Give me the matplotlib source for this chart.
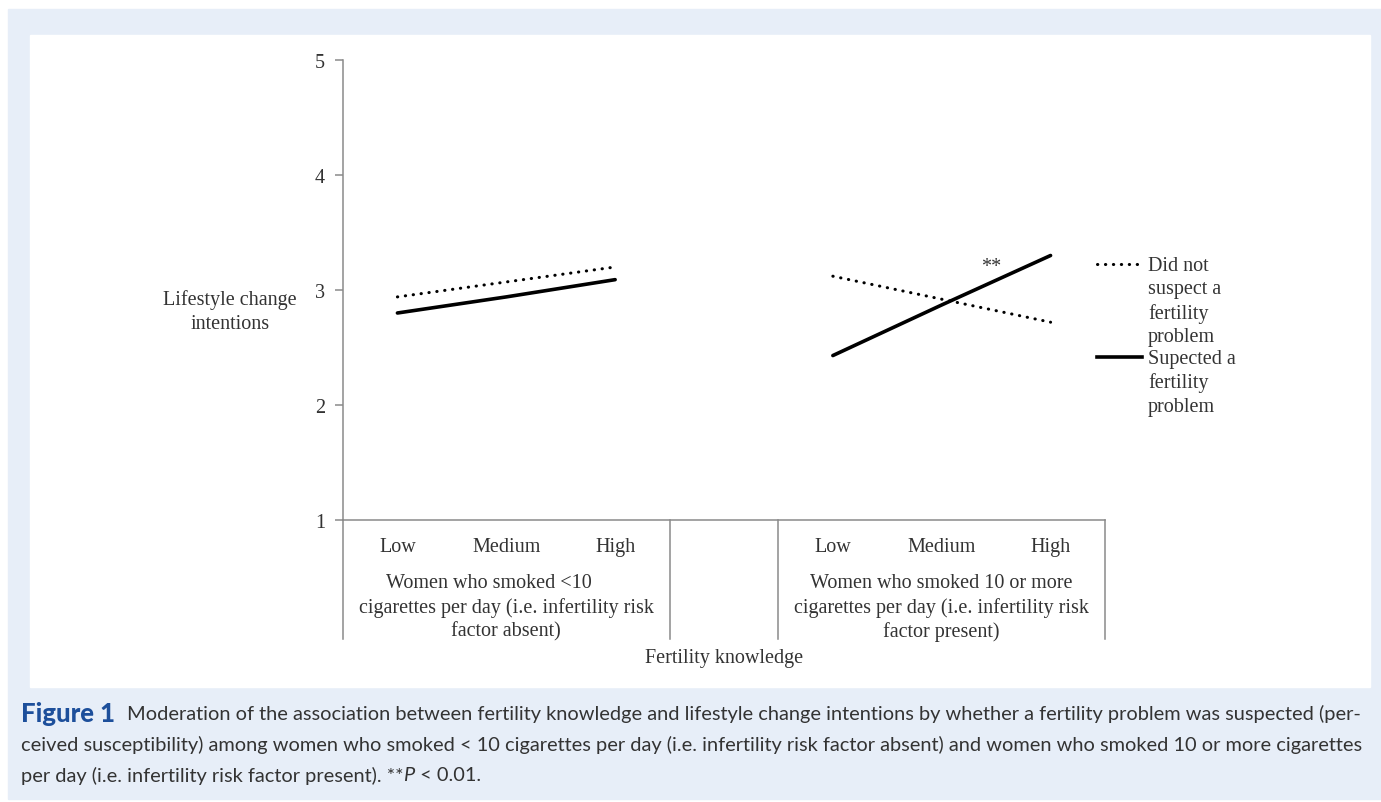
import matplotlib.pyplot as plt
from matplotlib.patches import Rectangle
from matplotlib.lines import Line2D

# categories on the lower axis (blank slot between the two groups)
levels = ["Low", "Medium", "High", "", "Low", "Medium", "High"]
groups = ["Women who smoked <10       \ncigarettes per day (i.e. infertility risk\nfactor absent)",
          "Women who smoked 10 or more\ncigarettes per day (i.e. infertility risk\nfactor present)"]
group_pos = [1, 5]

# simple slopes
left_x = [0, 1, 2]
right_x = [4, 5, 6]
not_suspect_left = [2.94, 3.07, 3.20]
suspect_left = [2.80, 2.94, 3.09]
not_suspect_right = [3.12, 2.92, 2.72]
suspect_right = [2.43, 2.87, 3.30]

yticks = [1, 2, 3, 4, 5]
legend_labels = ["Did not\nsuspect a\nfertility\nproblem", "Supected a\nfertility\nproblem"]

caption = ["Moderation of the association between fertility knowledge and lifestyle change intentions by whether a fertility problem was suspected (per-",
           "ceived susceptibility) among women who smoked < 10 cigarettes per day (i.e. infertility risk factor absent) and women who smoked 10 or more cigarettes",
           "per day (i.e. infertility risk factor present). **"]

W, H = 1381, 803
fig = plt.figure(figsize=(W / 100, H / 100), dpi=100)
fig.patch.set_facecolor("white")

def fx(px):
    return px / W

def fy(py):
    return 1 - py / H

# page background + white panel
fig.patches.append(Rectangle((fx(8), fy(800)), fx(1381) - fx(8), fy(10) - fy(800),
                             transform=fig.transFigure, color="#e7eef8", zorder=-5))
fig.patches.append(Rectangle((fx(30), fy(688)), fx(1370) - fx(30), fy(36) - fy(688),
                             transform=fig.transFigure, color="white", zorder=-4))

serif = "Liberation Serif"
fs = 14.5
tcol = "#333333"
acol = "#8a8a8a"

ax = fig.add_axes([fx(343), fy(521), fx(1105) - fx(343), fy(61) - fy(521)])
ax.set_zorder(2)
ax.set_facecolor("none")
ax.set_xlim(-0.5, 6.5)
ax.set_ylim(1, 5)

dots = (0, (0.1, 2.5))
ax.plot(left_x, not_suspect_left, color="black", lw=2.2, linestyle=dots, dash_capstyle="round")
ax.plot(right_x, not_suspect_right, color="black", lw=2.2, linestyle=dots, dash_capstyle="round")
ax.plot(left_x, suspect_left, color="black", lw=2.6, solid_capstyle="round")
ax.plot(right_x, suspect_right, color="black", lw=2.6, solid_capstyle="round")
ax.text(5.45, 3.2, "**", fontsize=fs, family=serif, color=tcol, ha="center", va="center")

for s in ["top", "right"]:
    ax.spines[s].set_visible(False)
for s in ["left", "bottom"]:
    ax.spines[s].set_color(acol)
    ax.spines[s].set_linewidth(1.1)

ax.set_yticks(yticks)
ax.set_yticklabels([str(v) for v in yticks], family=serif, fontsize=fs, color=tcol)
ax.tick_params(axis="y", length=6, color=acol, width=1.1, pad=7)
ax.set_xticks([])

# first level category labels
for i, lab in enumerate(levels):
    ax.text(i, -0.058, lab, transform=ax.get_xaxis_transform(), ha="center", va="center",
            family=serif, fontsize=fs, color=tcol)
# group labels
for gp, g in zip(group_pos, groups):
    ax.text(gp, -0.116, g, transform=ax.get_xaxis_transform(), ha="center", va="top",
            family=serif, fontsize=fs, color=tcol, linespacing=1.3)
# group separators
for b in [-0.5, 2.5, 3.5, 6.5]:
    ax.plot([b, b], [0, -0.259], transform=ax.get_xaxis_transform(), color=acol,
            lw=1.1, clip_on=False)

fig.text(fx(724), fy(658), "Fertility knowledge", ha="center", va="center",
         family=serif, fontsize=fs, color=tcol)
fig.text(fx(230), fy(312), "Lifestyle change\nintentions", ha="center", va="center",
         family=serif, fontsize=fs, color=tcol, linespacing=1.3)

# legend drawn by hand
leg_y = [265, 358]
leg_styles = [dict(lw=2.2, linestyle=dots, dash_capstyle="round"), dict(lw=2.6)]
for ly, lab, st in zip(leg_y, legend_labels, leg_styles):
    fig.add_artist(Line2D([fx(1097), fx(1142)], [fy(ly), fy(ly)], color="black",
                          transform=fig.transFigure, **st))
    fig.text(fx(1148), fy(ly - 8), lab, ha="left", va="top", family=serif,
             fontsize=fs, color=tcol, linespacing=1.3)

# caption
cap_font = "Lato"
cap_size = 14.4
ccol = "#333333"
r = fig.canvas.get_renderer()
t0 = fig.text(fx(21), fy(714), "Figure 1", ha="left", va="center", family=cap_font,
              fontsize=18.5, weight="black", color="#1d4f9b")
bb = t0.get_window_extent(renderer=r)
fig.text(bb.x1 / W + fx(12), fy(714), caption[0], ha="left", va="center",
         family=cap_font, fontsize=cap_size, color=ccol)
fig.text(fx(21), fy(745), caption[1], ha="left", va="center", family=cap_font,
         fontsize=cap_size, color=ccol)
t3 = fig.text(fx(21), fy(776), caption[2], ha="left", va="center", family=cap_font,
              fontsize=cap_size, color=ccol)
x = t3.get_window_extent(renderer=r).x1
t4 = fig.text(x / W, fy(776), "P", ha="left", va="center", family=cap_font,
              fontsize=cap_size, style="italic", color=ccol)
x = t4.get_window_extent(renderer=r).x1
fig.text(x / W, fy(776), " < 0.01.", ha="left", va="center", family=cap_font,
         fontsize=cap_size, color=ccol)

fig.savefig("out.png", dpi=100)
